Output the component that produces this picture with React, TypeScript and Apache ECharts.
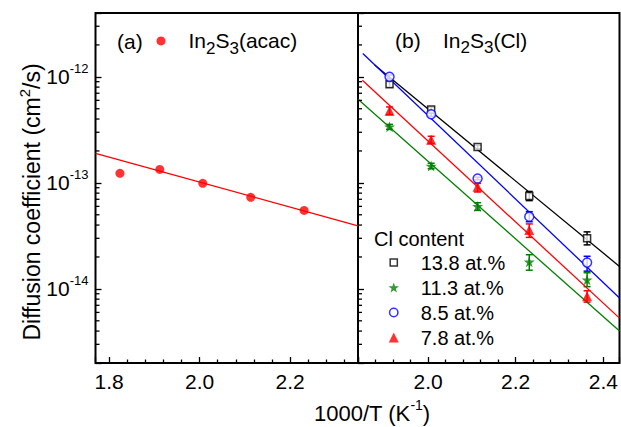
import React, { useEffect, useRef } from 'react';
import * as echarts from 'echarts';

const FONT = '"Liberation Sans", Arial, Helvetica, sans-serif';

// Inverse annealing temperatures, 1000/T (K^-1)
const invTempAcac = [1.824, 1.912, 2.007, 2.113, 2.231];
const invTempCl = [1.912, 2.007, 2.113, 2.231, 2.363];

// (a) In2S3(acac): diffusion coefficients (cm^2/s) and Arrhenius fit end points
const diffAcac = [1.23e-13, 1.34e-13, 9.9e-14, 7.3e-14, 5.5e-14];
const fitAcacX = [1.77, 2.35];
const fitAcacY = [1.9e-13, 3.93e-14];

// (b) In2S3(Cl) for four Cl contents
const clContents = ['13.8 at.%', '11.3 at.%', '8.5 at.%', '7.8 at.%'];

const diff138 = [8.5e-13, 4.93e-13, 2.18e-13, 7.5e-14, 3.0e-14];
const low138 = [8.0e-13, 4.65e-13, 2.1e-13, 6.8e-14, 2.6e-14];
const high138 = [9.0e-13, 5.2e-13, 2.26e-13, 8.3e-14, 3.45e-14];
const fit138X = [1.878, 2.437];
const fit138Y = [1.29e-12, 1.63e-14];

const diff113 = [3.38e-13, 1.44e-13, 6.0e-14, 1.8e-14, 1.22e-14];
const low113 = [3.2e-13, 1.36e-13, 5.5e-14, 1.5e-14, 1.05e-14];
const high113 = [3.56e-13, 1.53e-13, 6.5e-14, 2.1e-14, 1.42e-14];
const fit113X = [1.84, 2.437];
const fit113Y = [6.16e-13, 4.0e-15];

const diff85 = [1.0e-12, 4.43e-13, 1.1e-13, 4.8e-14, 1.77e-14];
const low85 = [0.96e-12, 4.25e-13, 1.07e-13, 4.3e-14, 1.47e-14];
const high85 = [1.04e-12, 4.6e-13, 1.13e-13, 5.35e-14, 2.03e-14];
const fit85X = [1.851, 2.437];
const fit85Y = [1.66e-12, 8.2e-15];

const diff78 = [4.8e-13, 2.55e-13, 9.2e-14, 3.6e-14, 8.5e-15];
const low78 = [4.4e-13, 2.35e-13, 8.2e-14, 3.06e-14, 7.5e-15];
const high78 = [5.2e-13, 2.75e-13, 9.9e-14, 4.1e-14, 9.6e-15];
const fit78X = [1.85, 2.437];
const fit78Y = [9.3e-13, 5.3e-15];

// Axis ranges
const yMin = 2e-15;
const yMax = 4e-12;
const xRangeA = [1.77, 2.35];
const xRangeB = [1.84, 2.437];
const minorMantissas = [2, 3, 4, 5, 6, 7, 8, 9];
const decades = [-15, -14, -13, -12];

const RED = '#ff0000';
const BLUE = '#0000ff';
const GREEN = '#008000';
const BLACK = '#000000';

// symbol outlines (legend icons keep their aspect; the move-to points pad the box)
const STAR =
  'path://M50,0 L61.8,35.1 L98.9,35.5 L69.1,57.6 L80.2,93.1 L50,71.6 L19.8,93.1 L30.9,57.6 L1.1,35.5 L38.2,35.1 Z';
const ICON_SQUARE = 'path://M-2,-2 M0,0 L10,0 L10,10 L0,10 Z M12,12';
const ICON_CIRCLE = 'path://M-1,-1 M0,5 A5,5 0 1 1 10,5 A5,5 0 1 1 0,5 Z M11,11';
const ICON_TRIANGLE = 'path://M5,0 L10,10 L0,10 Z';

const zip = (xs: number[], ys: number[]) => xs.map((x, i) => [x, ys[i]]);

const minorValues = decades
  .flatMap((e) => minorMantissas.map((m) => m * Math.pow(10, e)))
  .filter((v) => v > yMin * 1.0001 && v < yMax * 0.9999);

const tok = (size: number, extra: any = {}) => ({
  fontSize: size,
  fontFamily: FONT,
  color: '#000',
  fill: '#000',
  ...extra,
});

// subscript: main tokens sit in a tall line, subscript pinned to its bottom
const subRich = (size: number, subSize: number) => ({
  n: tok(size, { lineHeight: 32 }),
  s: tok(subSize, { lineHeight: subSize, verticalAlign: 'bottom' }),
});

// superscript: small token pinned to the top of a tall line
const supRich = (size: number, supSize: number, line: number) => ({
  n: tok(size, { lineHeight: line }),
  s: tok(supSize, { lineHeight: supSize, verticalAlign: 'top' }),
});

const errorBarRenderer = (color: string) => (params: any, api: any) => {
  const x = api.value(0);
  const top = api.coord([x, api.value(2)]);
  const bottom = api.coord([x, api.value(1)]);
  const half = 3.5;
  const style = { stroke: color, lineWidth: 1.5, fill: 'none' };
  return {
    type: 'group',
    children: [
      { type: 'line', shape: { x1: top[0], y1: top[1], x2: bottom[0], y2: bottom[1] }, style },
      { type: 'line', shape: { x1: top[0] - half, y1: top[1], x2: top[0] + half, y2: top[1] }, style },
      { type: 'line', shape: { x1: bottom[0] - half, y1: bottom[1], x2: bottom[0] + half, y2: bottom[1] }, style },
    ],
  };
};

// short inward ticks at 2..9 x 10^n on the log axis
const minorTickRenderer = (params: any, api: any) => {
  const p = api.coord([api.value(0), api.value(1)]);
  return {
    type: 'line',
    shape: { x1: p[0], y1: p[1], x2: p[0] + 4, y2: p[1] },
    style: { stroke: '#000', lineWidth: 1.3 },
  };
};

const xAxisFor = (gridIndex: number, range: number[]) => ({
  type: 'value',
  gridIndex,
  min: range[0],
  max: range[1],
  splitNumber: 3,
  position: 'bottom',
  axisLine: { show: false },
  splitLine: { show: false },
  axisTick: { show: true, inside: true, length: 6, lineStyle: { color: '#000', width: 1.3 } },
  minorTick: { show: true, splitNumber: 5, length: 3.5, lineStyle: { color: '#000', width: 1.3 } },
  axisLabel: {
    show: true,
    color: '#000',
    fontSize: 21,
    fontFamily: FONT,
    margin: 8,
    formatter: (v: number) => (Math.abs(v * 5 - Math.round(v * 5)) < 1e-6 ? v.toFixed(1) : ''),
  },
});

const yAxisFor = (gridIndex: number, labels: boolean) => ({
  type: 'log',
  logBase: 10,
  gridIndex,
  min: yMin,
  max: yMax,
  axisLine: { show: false },
  splitLine: { show: false },
  minorTick: { show: false },
  axisTick: { show: true, inside: true, length: 6, lineStyle: { color: '#000', width: 1.3 } },
  axisLabel: labels
    ? {
        show: true,
        margin: 7,
        formatter: (v: number) => {
          const e = Math.log10(v);
          if (Math.abs(e - Math.round(e)) > 1e-6) return '';
          return '{n|10}{s|' + Math.round(e) + '}';
        },
        rich: supRich(21, 13, 29),
      }
    : { show: false },
});

const App = () => {
  const ref = useRef<HTMLDivElement>(null);

  useEffect(() => {
    if (!ref.current) return;
    const chart = echarts.init(ref.current, null, { renderer: 'svg' });

    const clSets = [
      { name: clContents[0], diff: diff138, low: low138, high: high138, fx: fit138X, fy: fit138Y, color: BLACK,
        symbol: 'rect', icon: ICON_SQUARE, size: 7,
        itemStyle: { color: '#fff', borderColor: BLACK, borderWidth: 1.5 } },
      { name: clContents[1], diff: diff113, low: low113, high: high113, fx: fit113X, fy: fit113Y, color: GREEN,
        symbol: STAR, icon: STAR, size: 11, itemStyle: { color: GREEN, borderWidth: 0 } },
      { name: clContents[2], diff: diff85, low: low85, high: high85, fx: fit85X, fy: fit85Y, color: BLUE,
        symbol: 'circle', icon: ICON_CIRCLE, size: 9,
        itemStyle: { color: '#fff', borderColor: BLUE, borderWidth: 1.5 } },
      { name: clContents[3], diff: diff78, low: low78, high: high78, fx: fit78X, fy: fit78Y, color: RED,
        symbol: 'triangle', icon: ICON_TRIANGLE, size: 10, itemStyle: { color: RED, borderWidth: 0 } },
    ];

    const series: any[] = [
      {
        type: 'custom',
        name: 'minor-a',
        xAxisIndex: 0,
        yAxisIndex: 0,
        renderItem: minorTickRenderer,
        data: minorValues.map((v) => [xRangeA[0], v]),
        encode: { x: 0, y: 1 },
        silent: true,
        clip: false,
        z: 5,
      },
      {
        type: 'custom',
        name: 'minor-b',
        xAxisIndex: 1,
        yAxisIndex: 1,
        renderItem: minorTickRenderer,
        data: minorValues.map((v) => [xRangeB[0], v]),
        encode: { x: 0, y: 1 },
        silent: true,
        clip: false,
        z: 5,
      },
      {
        type: 'line',
        name: 'fit-acac',
        xAxisIndex: 0,
        yAxisIndex: 0,
        data: zip(fitAcacX, fitAcacY),
        symbol: 'none',
        lineStyle: { color: RED, width: 1.3 },
        silent: true,
        z: 3,
      },
      {
        type: 'scatter',
        name: 'In2S3(acac)',
        xAxisIndex: 0,
        yAxisIndex: 0,
        data: zip(invTempAcac, diffAcac),
        symbol: 'circle',
        symbolSize: 9,
        itemStyle: { color: RED },
        z: 4,
      },
    ];

    clSets.forEach((s) => {
      series.push({
        type: 'custom',
        name: 'err ' + s.name,
        xAxisIndex: 1,
        yAxisIndex: 1,
        renderItem: errorBarRenderer(s.color),
        data: invTempCl.map((x, i) => [x, s.low[i], s.high[i]]),
        encode: { x: 0, y: [1, 2] },
        silent: true,
        z: 2,
      });
      series.push({
        type: 'line',
        name: 'fit ' + s.name,
        xAxisIndex: 1,
        yAxisIndex: 1,
        data: zip(s.fx, s.fy),
        symbol: 'none',
        lineStyle: { color: s.color, width: 1.3 },
        silent: true,
        z: 3,
      });
    });
    clSets.forEach((s) => {
      series.push({
        type: 'scatter',
        name: s.name,
        xAxisIndex: 1,
        yAxisIndex: 1,
        data: zip(invTempCl, s.diff),
        symbol: s.symbol,
        symbolSize: s.size,
        itemStyle: s.itemStyle,
        z: 4,
      });
    });

    const option: any = {
      animation: false,
      backgroundColor: '#ffffff',
      textStyle: { fontFamily: FONT },
      grid: [
        { left: 95.5, top: 13, width: 262.5, height: 350, show: true, borderColor: '#000', borderWidth: 2,
          backgroundColor: 'transparent', containLabel: false, outerBoundsMode: 'none' },
        { left: 358, top: 13, width: 261.5, height: 350, show: true, borderColor: '#000', borderWidth: 2,
          backgroundColor: 'transparent', containLabel: false, outerBoundsMode: 'none' },
      ],
      xAxis: [xAxisFor(0, xRangeA), xAxisFor(1, xRangeB)],
      yAxis: [yAxisFor(0, true), yAxisFor(1, false)],
      legend: [
        {
          left: 156.5,
          top: 30.4,
          padding: 0,
          itemWidth: 45,
          itemHeight: 9,
          selectedMode: false,
          data: [{ name: 'In2S3(acac)', icon: 'circle', itemStyle: { color: RED, borderWidth: 0 } }],
          formatter: () => '{n|In}{s|2}{n|S}{s|3}{n|(acac)}',
          textStyle: { fontSize: 21, fontFamily: FONT, color: '#000', rich: subRich(21, 17) },
        },
        {
          left: 388,
          top: 252.5,
          orient: 'vertical',
          padding: 0,
          itemGap: 5,
          itemWidth: 44,
          itemHeight: 10,
          symbolKeepAspect: true,
          selectedMode: false,
          data: clSets.map((s) => ({ name: s.name, icon: s.icon, itemStyle: s.itemStyle })),
          textStyle: { fontSize: 20, fontFamily: FONT, color: '#000', lineHeight: 20 },
        },
      ],
      graphic: [
        { type: 'text', x: 117, y: 41, z: 10,
          style: { text: '(a)', fontSize: 21, fontFamily: FONT, fill: '#000', align: 'left', verticalAlign: 'middle' } },
        { type: 'text', x: 395, y: 40, z: 10,
          style: { text: '(b)', fontSize: 21, fontFamily: FONT, fill: '#000', align: 'left', verticalAlign: 'middle' } },
        { type: 'text', x: 443, y: 40, z: 10,
          style: { text: '{n|In}{s|2}{n|S}{s|3}{n|(Cl)}', rich: subRich(21, 17), fill: '#000',
            align: 'left', verticalAlign: 'middle' } },
        { type: 'text', x: 374, y: 239, z: 10,
          style: { text: 'Cl content', fontSize: 20, fontFamily: FONT, fill: '#000', align: 'left', verticalAlign: 'middle' } },
        { type: 'text', x: 32, y: 202, rotation: Math.PI / 2, z: 10,
          style: { text: '{n|Diffusion coefficient (cm}{s|2}{n|/s)}', rich: supRich(23, 15, 31), fill: '#000',
            align: 'center', verticalAlign: 'middle' } },
        { type: 'text', x: 372, y: 413, z: 10,
          style: { text: '{n|1000/T (K}{s|-1}{n|)}', rich: supRich(22, 14, 30), fill: '#000',
            align: 'center', verticalAlign: 'middle' } },
      ],
      series,
    };

    chart.setOption(option);
    return () => chart.dispose();
  }, []);

  return (
    <div
      ref={ref}
      style={{ position: 'absolute', left: 0, top: 0, width: 621, height: 427, background: '#fff' }}
    />
  );
};

export default App;
